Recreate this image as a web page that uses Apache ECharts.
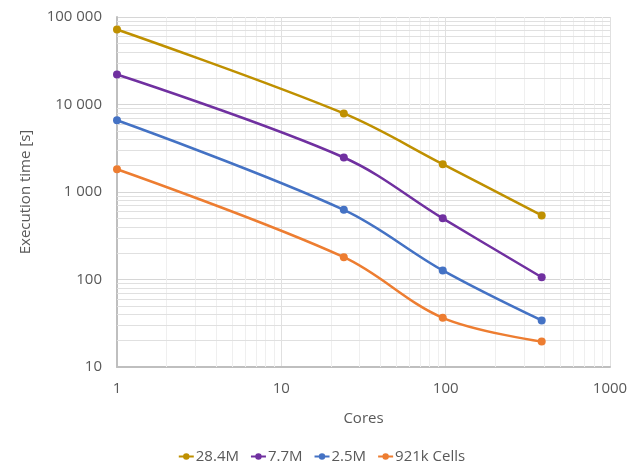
<!DOCTYPE html>
<html>
<head>
<meta charset="UTF-8">
<title>Execution time</title>
<script src="https://cdn.jsdelivr.net/npm/echarts@6/dist/echarts.min.js"></script>
<style>
  html, body { margin: 0; padding: 0; background: #fff; }
  #chart { width: 643px; height: 463px; }
</style>
</head>
<body>
<div id="chart"></div>
<script>
// cores used in the runs
var cores = [1, 24, 96, 384];
// execution time [s] per mesh size
var t28M = [72000, 7900, 2080, 540];
var t77M = [22000, 2480, 500, 106];
var t25M = [6600, 625, 127, 34];
var t921k = [1820, 180, 36.5, 19.5];

var seriesNames = ['28.4M', '7.7M', '2.5M', '921k Cells'];
var colors = ['#BF9000', '#7030A0', '#4472C4', '#ED7D31'];

// minor grid lines (2..9 of every decade), like the excel log axes
var minorX = [], minorY = [];
for (var e = 0; e < 3; e++) for (var k = 2; k < 10; k++) minorX.push(k * Math.pow(10, e));
for (var e2 = 1; e2 < 5; e2++) for (var k2 = 2; k2 < 10; k2++) minorY.push(k2 * Math.pow(10, e2));

function pairs(vals) {
  return cores.map(function (c, i) { return [c, vals[i]]; });
}

function fmtThousands(v) {
  return String(Math.round(v)).replace(/\B(?=(\d{3})+(?!\d))/g, ' ');
}

var font = '"Open Sans", sans-serif';
var txt = '#595959';
var fs = 15;

var chart = echarts.init(document.getElementById('chart'));

var lines = [t28M, t77M, t25M, t921k].map(function (vals, i) {
  return {
    name: seriesNames[i],
    type: 'line',
    data: pairs(vals),
    smooth: 0.35,
    symbol: 'circle',
    symbolSize: 8,
    z: 3,
    lineStyle: { width: 2.5, color: colors[i] },
    itemStyle: { color: colors[i] }
  };
});

var gridSeries = {
  name: 'grid',
  type: 'line',
  data: [],
  z: 1,
  silent: true,
  markLine: {
    z: 1,
    silent: true,
    animation: false,
    symbol: ['none', 'none'],
    label: { show: false },
    emphasis: { disabled: true },
    data: minorX.map(function (v) {
      return { xAxis: v, lineStyle: { color: '#efefef', width: 1, type: 'solid' } };
    }).concat(minorY.map(function (v) {
      return { yAxis: v, lineStyle: { color: '#e0e0e0', width: 1, type: 'solid' } };
    }))
  }
};

var option = {
  animation: false,
  color: colors,
  textStyle: { fontFamily: font },
  grid: { left: 117, right: 33, top: 17, bottom: 96 },
  legend: {
    data: seriesNames,
    top: 444,
    left: 'center',
    itemWidth: 15,
    itemHeight: 8,
    itemGap: 11,
    textStyle: { color: txt, fontSize: fs, fontFamily: font, padding: [0, 0, 0, -3] }
  },
  xAxis: {
    type: 'log',
    logBase: 10,
    min: 1,
    max: 1000,
    name: 'Cores',
    nameLocation: 'middle',
    nameGap: 44,
    nameTextStyle: { color: txt, fontSize: fs, fontFamily: font },
    axisLine: { show: true, lineStyle: { color: '#bfbfbf', width: 2 } },
    axisTick: { show: false },
    axisLabel: {
      color: txt, fontSize: fs, margin: 14, fontFamily: font,
      formatter: function (v) { return String(Math.round(v)); }
    },
    splitLine: { show: true, lineStyle: { color: '#e0e0e0', width: 1 } }
  },
  yAxis: {
    type: 'log',
    logBase: 10,
    min: 10,
    max: 100000,
    name: 'Execution time [s]',
    nameLocation: 'middle',
    nameGap: 84,
    nameRotate: 90,
    nameTextStyle: { color: txt, fontSize: fs, fontFamily: font },
    axisLine: { show: true, lineStyle: { color: '#bfbfbf', width: 2 } },
    axisTick: { show: false },
    axisLabel: { color: txt, fontSize: fs, margin: 15, fontFamily: font, formatter: fmtThousands },
    splitLine: { show: true, lineStyle: { color: '#d6d6d6', width: 1 } }
  },
  series: [gridSeries].concat(lines)
};

chart.setOption(option);
</script>
</body>
</html>
